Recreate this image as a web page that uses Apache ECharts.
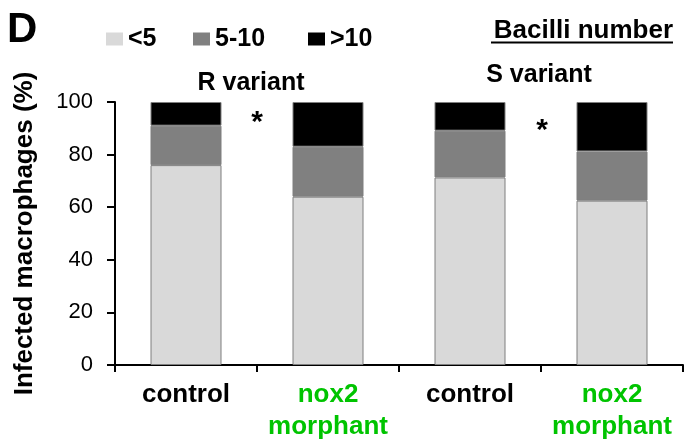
<!DOCTYPE html>
<html><head><meta charset="utf-8">
<script src="https://cdn.jsdelivr.net/npm/echarts@6/dist/echarts.min.js"></script>
<style>html,body{margin:0;padding:0;background:#fff}#c{width:687px;height:440px}</style>
</head><body><div id="c"></div>
<script>
var categories = ['control', 'nox2\nmorphant', 'control', 'nox2\nmorphant'];
var lt5 = [76, 64, 71.3, 62.5];
var mid5to10 = [15, 19, 17.8, 18.7];
var gt10 = [9, 17, 10.9, 18.8];
var seriesNames = ['<5', '5-10', '>10'];
var yTicks = [0, 20, 40, 60, 80, 100];

var F = 'Liberation Sans, Arial, sans-serif';
var chart = echarts.init(document.getElementById('c'));
var barStyle = function (c) { return { color: c, borderColor: '#7f7f7f', borderWidth: 1 }; };
function leg(name, left) {
  return {
    left: left, top: 26, padding: 0, itemWidth: 17, itemHeight: 13, icon: 'rect',
    itemStyle: { borderWidth: 0 },
    data: [name],
    textStyle: { fontFamily: F, fontSize: 25, fontWeight: 'bold', color: '#000', lineHeight: 26 }
  };
}
chart.setOption({
  animation: false,
  textStyle: { fontFamily: F },
  grid: { left: 115, right: 4, top: 102, bottom: 69 },
  legend: [leg(seriesNames[0], 106), leg(seriesNames[1], 193), leg(seriesNames[2], 308)],
  title: [
    { text: 'D', left: 7, top: 9, padding: 0, textStyle: { fontFamily: F, fontSize: 42, fontWeight: 'bold', color: '#000' } },
    { text: 'Bacilli number', right: 14, top: 18, padding: 0, textStyle: { fontFamily: F, fontSize: 26, fontWeight: 'bold', color: '#000' } },
    { text: 'R variant', left: 251, top: 71, padding: 0, textAlign: 'center', textStyle: { fontFamily: F, fontSize: 25, fontWeight: 'bold', color: '#000' } },
    { text: 'S variant', left: 539, top: 63, padding: 0, textAlign: 'center', textStyle: { fontFamily: F, fontSize: 25, fontWeight: 'bold', color: '#000' } },
    { text: '*', left: 257, top: 108, padding: 0, textAlign: 'center', textStyle: { fontFamily: F, fontSize: 30, fontWeight: 'bold', color: '#000' } },
    { text: '*', left: 542, top: 116, padding: 0, textAlign: 'center', textStyle: { fontFamily: F, fontSize: 30, fontWeight: 'bold', color: '#000' } }
  ],
  graphic: [
    { type: 'line', shape: { x1: 491, y1: 42.5, x2: 673, y2: 42.5 }, style: { stroke: '#000', lineWidth: 2 } }
  ],
  xAxis: {
    type: 'category', data: categories,
    axisLine: { lineStyle: { color: '#000', width: 2 } },
    axisTick: { show: true, length: 7, lineStyle: { color: '#000', width: 2 } },
    axisLabel: {
      margin: 14, interval: 0,
      formatter: function (v) { return v.indexOf('nox2') === 0 ? '{g|' + v.replace('\n', '}\n{g|') + '}' : '{b|' + v + '}'; },
      rich: {
        b: { fontFamily: F, fontSize: 26, fontWeight: 'bold', color: '#000', lineHeight: 32 },
        g: { fontFamily: F, fontSize: 26, fontWeight: 'bold', color: '#00c400', lineHeight: 32 }
      }
    }
  },
  yAxis: {
    type: 'value', min: 0, max: 100, interval: 20,
    name: 'Infected macrophages (%)', nameLocation: 'middle', nameGap: 77,
    nameTextStyle: { fontFamily: F, fontSize: 26, fontWeight: 'bold', color: '#000' },
    splitLine: { show: false },
    axisLine: { show: true, lineStyle: { color: '#000', width: 2 } },
    axisTick: { show: true, length: 8, lineStyle: { color: '#000', width: 2 } },
    axisLabel: { margin: 22, fontFamily: F, fontSize: 22, color: '#000',
      formatter: function (v) { return yTicks.indexOf(v) >= 0 ? String(v) : ''; } }
  },
  series: [
    { name: seriesNames[0], type: 'bar', stack: 's', data: lt5, barWidth: '50%', itemStyle: barStyle('#d9d9d9') },
    { name: seriesNames[1], type: 'bar', stack: 's', data: mid5to10, barWidth: '50%', itemStyle: barStyle('#808080') },
    { name: seriesNames[2], type: 'bar', stack: 's', data: gt10, barWidth: '50%', itemStyle: barStyle('#000000') }
  ]
});
</script></body></html>
